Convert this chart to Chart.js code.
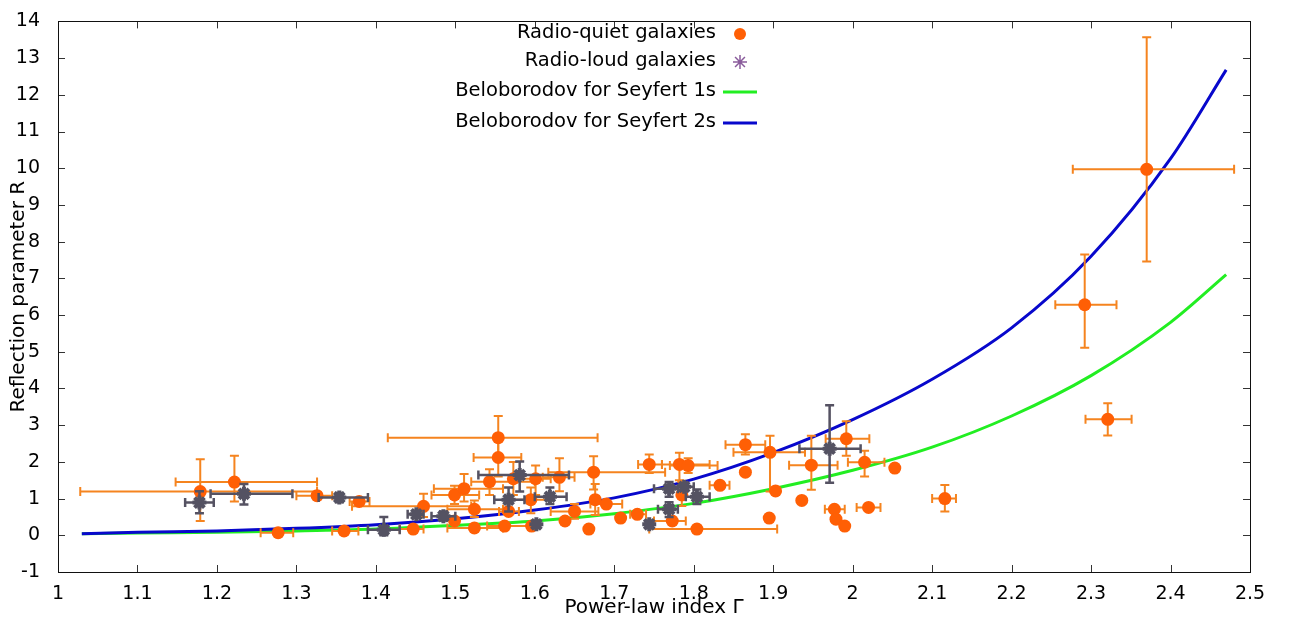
<!DOCTYPE html>
<html>
<head>
<meta charset="utf-8">
<script src="https://cdn.jsdelivr.net/npm/chart.js@4.4.1/dist/chart.umd.min.js"></script>
<style>
  html, body { margin: 0; padding: 0; background: #fff; }
</style>
</head>
<body>
<canvas id="chart" width="1293" height="627"></canvas>
<script>
// tick labels
const xTicks = [1, 1.1, 1.2, 1.3, 1.4, 1.5, 1.6, 1.7, 1.8, 1.9, 2, 2.1, 2.2, 2.3, 2.4, 2.5];
const yTicks = [-1, 0, 1, 2, 3, 4, 5, 6, 7, 8, 9, 10, 11, 12, 13, 14];

// radio-quiet galaxies (Gamma, R, and error ranges; null = no bar)
const quietG   = [1.179, 1.222, 1.277, 1.326, 1.36, 1.379, 1.447, 1.46, 1.499, 1.511, 1.499, 1.524, 1.524, 1.543, 1.554, 1.554, 1.562, 1.567, 1.573, 1.595, 1.596, 1.601, 1.631, 1.638, 1.65, 1.668, 1.674, 1.676, 1.69, 1.708, 1.729, 1.744, 1.782, 1.793, 1.773, 1.785, 1.804, 1.833, 1.865, 1.896, 1.865, 1.903, 1.936, 1.895, 1.948, 1.992, 2.015, 2.053, 1.977, 1.979, 1.99, 2.02, 2.116, 2.292, 2.321, 2.37];
const quietR   = [1.19, 1.45, 0.07, 1.08, 0.12, 0.92, 0.17, 0.79, 1.1, 1.27, 0.39, 0.71, 0.2, 1.46, 2.66, 2.12, 0.25, 0.65, 1.54, 0.97, 0.25, 1.54, 1.58, 0.39, 0.65, 0.17, 1.72, 0.97, 0.85, 0.47, 0.57, 1.93, 1.93, 1.9, 0.39, 1.1, 0.17, 1.36, 2.47, 2.26, 1.72, 1.21, 0.95, 0.47, 1.91, 2.63, 1.99, 1.83, 0.71, 0.44, 0.25, 0.76, 1.0, 6.28, 3.16, 9.97];
const quietGLo = [1.028, 1.148, 1.255, 1.30, 1.345, 1.367, 1.43, 1.37, 1.47, 1.473, null, 1.49, 1.49, 1.52, 1.415, 1.523, 1.54, 1.555, null, 1.57, null, 1.58, 1.61, null, 1.62, null, 1.617, null, 1.67, null, 1.72, 1.73, 1.76, 1.77, 1.75, null, 1.744, 1.82, 1.84, 1.85, null, null, null, null, 1.92, 1.966, 1.994, null, 1.965, null, null, 2.005, 2.10, 2.255, 2.293, 2.277];
const quietGHi = [1.326, 1.326, 1.296, 1.345, 1.378, 1.392, 1.46, 1.52, 1.53, 1.56, null, 1.56, 1.56, 1.6, 1.679, 1.583, 1.6, 1.58, null, 1.62, null, 1.62, 1.65, null, 1.68, null, 1.764, null, 1.71, null, 1.74, 1.76, 1.82, 1.83, 1.79, null, 1.905, 1.845, 1.89, 1.94, null, null, null, null, 1.981, 2.021, 2.04, null, 1.99, null, null, 2.035, 2.13, 2.332, 2.351, 2.48];
const quietRLo = [0.39, 0.92, null, null, null, null, null, 0.5, 0.85, 0.92, null, 0.5, null, 1.1, 2.1, 1.6, null, null, 1.1, 0.6, null, 1.1, 1.2, null, 0.45, null, 1.25, 0.55, null, null, null, 1.7, 1.5, 1.7, null, 0.8, null, null, 2.2, 1.19, null, null, null, null, 1.24, 2.17, 1.6, null, null, null, null, null, 0.65, 5.11, 2.72, 7.46];
const quietRHi = [2.07, 2.17, null, null, null, null, null, 1.13, 1.35, 1.67, null, 0.95, null, 1.8, 3.25, 2.6, null, null, 2.0, 1.3, null, 1.9, 2.1, null, 0.85, null, 2.15, 1.4, null, null, null, 2.2, 2.25, 2.1, null, 1.45, null, null, 2.75, 2.71, null, null, null, null, 2.71, 3.11, 2.3, null, null, null, null, null, 1.37, 7.65, 3.6, 13.57];

// radio-loud galaxies
const loudG   = [1.178, 1.234, 1.354, 1.41, 1.451, 1.485, 1.567, 1.581, 1.602, 1.619, 1.744, 1.769, 1.788, 1.804, 1.769, 1.971];
const loudR   = [0.89, 1.13, 1.03, 0.15, 0.57, 0.52, 0.97, 1.64, 0.3, 1.05, 0.3, 1.27, 1.32, 1.05, 0.71, 2.36];
const loudGLo = [1.16, 1.192, 1.328, 1.39, 1.44, 1.47, 1.549, 1.529, null, 1.60, null, 1.75, 1.77, 1.79, 1.755, 1.933];
const loudGHi = [1.196, 1.295, 1.39, 1.43, 1.46, 1.50, 1.587, 1.643, null, 1.64, null, 1.78, 1.80, 1.82, 1.78, 2.01];
const loudRLo = [0.6, 0.84, 0.9, 0.0, null, 0.4, 0.65, 1.19, null, 0.85, null, 1.05, null, 0.85, 0.5, 1.43];
const loudRHi = [1.2, 1.4, 1.15, 0.5, null, 0.65, 1.3, 2.01, null, 1.3, null, 1.45, null, 1.25, 0.9, 3.54];

// Beloborodov curves
const curveG = [1.03, 1.1, 1.2, 1.3, 1.4, 1.5, 1.6, 1.7, 1.8, 1.9, 2.0, 2.1, 2.2, 2.3, 2.4, 2.47];
const sey1R  = [0.04, 0.06, 0.08, 0.12, 0.17, 0.27, 0.39, 0.59, 0.87, 1.27, 1.77, 2.4, 3.25, 4.35, 5.8, 7.1];
const sey2R  = [0.04, 0.08, 0.12, 0.19, 0.29, 0.45, 0.69, 1.02, 1.53, 2.25, 3.15, 4.25, 5.65, 7.6, 10.26, 12.68];

const FONT = "DejaVu Sans";

function toPoints(xs, ys) {
    return xs.map((x, i) => ({ x: x, y: ys[i] }));
}

// error bars drawn just before each dataset's markers
const errorBars = {
    id: "errorBars",
    beforeDatasetDraw(chart, args) {
        const ds = chart.data.datasets[args.index];
        if (!ds.errors) return;
        const e = ds.errors;
        const xs = chart.scales.x, ys = chart.scales.y;
        const ctx = chart.ctx;
        const cap = 4.5;
        ctx.save();
        ctx.strokeStyle = ds.errorColor;
        ctx.lineWidth = ds.errorWidth;
        ds.data.forEach((p, i) => {
            const px = xs.getPixelForValue(p.x);
            const py = ys.getPixelForValue(p.y);
            ctx.beginPath();
            if (e.xLo[i] !== null) {
                const a = xs.getPixelForValue(e.xLo[i]);
                const b = xs.getPixelForValue(e.xHi[i]);
                ctx.moveTo(a, py); ctx.lineTo(b, py);
                ctx.moveTo(a, py - cap); ctx.lineTo(a, py + cap);
                ctx.moveTo(b, py - cap); ctx.lineTo(b, py + cap);
            }
            if (e.yLo[i] !== null) {
                const a = ys.getPixelForValue(e.yLo[i]);
                const b = ys.getPixelForValue(e.yHi[i]);
                ctx.moveTo(px, a); ctx.lineTo(px, b);
                ctx.moveTo(px - cap, a); ctx.lineTo(px + cap, a);
                ctx.moveTo(px - cap, b); ctx.lineTo(px + cap, b);
            }
            ctx.stroke();
        });
        ctx.restore();
    }
};

// gnuplot style frame with inward ticks on all four sides
const frame = {
    id: "frame",
    afterDatasetsDraw(chart) {
        const { ctx, chartArea: a } = chart;
        const xs = chart.scales.x, ys = chart.scales.y;
        const len = 7;
        ctx.save();
        ctx.strokeStyle = "#333";
        ctx.lineWidth = 1;
        ctx.beginPath();
        xTicks.forEach(v => {
            const px = Math.round(xs.getPixelForValue(v)) + 0.5;
            ctx.moveTo(px, a.bottom); ctx.lineTo(px, a.bottom - len);
            ctx.moveTo(px, a.top); ctx.lineTo(px, a.top + len);
        });
        yTicks.forEach(v => {
            const py = Math.round(ys.getPixelForValue(v)) + 0.5;
            ctx.moveTo(a.left, py); ctx.lineTo(a.left + len, py);
            ctx.moveTo(a.right, py); ctx.lineTo(a.right - len, py);
        });
        ctx.stroke();
        ctx.strokeStyle = "#111";
        ctx.strokeRect(Math.round(a.left) + 0.5, Math.round(a.top) + 0.5,
                       Math.round(a.right - a.left), Math.round(a.bottom - a.top));
        ctx.restore();
    }
};

// key in the top middle: text right aligned, sample to its right
const key = {
    id: "key",
    afterDraw(chart) {
        const ctx = chart.ctx;
        const textRight = 716, sx0 = 723, sx1 = 757;
        const rows = [33, 61, 91, 122];
        ctx.save();
        ctx.font = "19.5px " + FONT;
        ctx.textAlign = "right";
        ctx.textBaseline = "middle";
        chart.data.datasets.forEach((ds, i) => {
            const y = rows[i];
            ctx.fillStyle = "#000";
            ctx.fillText(ds.label, textRight, y);
            if (ds.showLine) {
                ctx.strokeStyle = ds.borderColor;
                ctx.lineWidth = 3;
                ctx.beginPath();
                ctx.moveTo(sx0, y + 1); ctx.lineTo(sx1, y + 1);
                ctx.stroke();
            } else if (ds.pointStyle === "circle") {
                ctx.fillStyle = ds.backgroundColor;
                ctx.beginPath();
                ctx.arc(740, y + 1, 6, 0, Math.PI * 2);
                ctx.fill();
            } else {
                ctx.strokeStyle = "#8a5c9c";
                ctx.lineWidth = 1.5;
                ctx.beginPath();
                for (let k = 0; k < 4; k++) {
                    const ang = k * Math.PI / 4;
                    ctx.moveTo(740 - 7 * Math.cos(ang), y + 1 - 7 * Math.sin(ang));
                    ctx.lineTo(740 + 7 * Math.cos(ang), y + 1 + 7 * Math.sin(ang));
                }
                ctx.stroke();
            }
        });
        ctx.restore();
    }
};

const ctx = document.getElementById("chart").getContext("2d");

const chart = new Chart(ctx, {
    type: "scatter",
    data: {
        datasets: [
            {
                label: "Radio-quiet galaxies",
                data: toPoints(quietG, quietR),
                pointStyle: "circle",
                pointRadius: 6.5,
                backgroundColor: "#ff5f05",
                borderColor: "#ff5f05",
                borderWidth: 0,
                errorColor: "#f5841f",
                errorWidth: 2,
                errors: { xLo: quietGLo, xHi: quietGHi, yLo: quietRLo, yHi: quietRHi },
                order: 1
            },
            {
                label: "Radio-loud galaxies",
                data: toPoints(loudG, loudR),
                pointStyle: "star",
                pointRadius: 7,
                backgroundColor: "#545262",
                borderColor: "#545262",
                pointBorderWidth: 4,
                errorColor: "#555262",
                errorWidth: 2.5,
                errors: { xLo: loudGLo, xHi: loudGHi, yLo: loudRLo, yHi: loudRHi },
                order: 0
            },
            {
                label: "Beloborodov for Seyfert 1s",
                data: toPoints(curveG, sey1R),
                showLine: true,
                pointRadius: 0,
                borderColor: "#22ee22",
                borderWidth: 3,
                cubicInterpolationMode: "monotone",
                order: 3
            },
            {
                label: "Beloborodov for Seyfert 2s",
                data: toPoints(curveG, sey2R),
                showLine: true,
                pointRadius: 0,
                borderColor: "#0808cc",
                borderWidth: 3,
                cubicInterpolationMode: "monotone",
                order: 2
            }
        ]
    },
    options: {
        responsive: false,
        animation: false,
        devicePixelRatio: 1,
        layout: { padding: { top: 10, right: 43, left: 0, bottom: 0 } },
        plugins: {
            legend: { display: false },
            tooltip: { enabled: false }
        },
        scales: {
            x: {
                type: "linear",
                min: 1,
                max: 2.5,
                grid: { display: false },
                border: { display: false },
                afterBuildTicks: s => { s.ticks = xTicks.map(v => ({ value: v })); },
                afterFit: s => { s.height = 55; },
                ticks: {
                    color: "#000",
                    font: { family: FONT, size: 19 },
                    padding: 3,
                    maxRotation: 0,
                    autoSkip: false,
                    callback: v => String(Number(v.toFixed(1)))
                },
                title: {
                    display: true,
                    text: "Power-law index Γ",
                    color: "#000",
                    font: { family: FONT, size: 20 },
                    padding: { top: 0, bottom: 7 }
                }
            },
            y: {
                type: "linear",
                min: -1,
                max: 14,
                grid: { display: false },
                border: { display: false },
                afterBuildTicks: s => { s.ticks = yTicks.map(v => ({ value: v })); },
                afterFit: s => { s.width = 58; },
                ticks: {
                    color: "#000",
                    font: { family: FONT, size: 19 },
                    padding: 10,
                    autoSkip: false
                },
                title: {
                    display: true,
                    text: "Reflection parameter R",
                    color: "#000",
                    font: { family: FONT, size: 20 },
                    padding: { top: 7, bottom: 0 }
                }
            }
        }
    },
    plugins: [errorBars, frame, key]
});
</script>
</body>
</html>
